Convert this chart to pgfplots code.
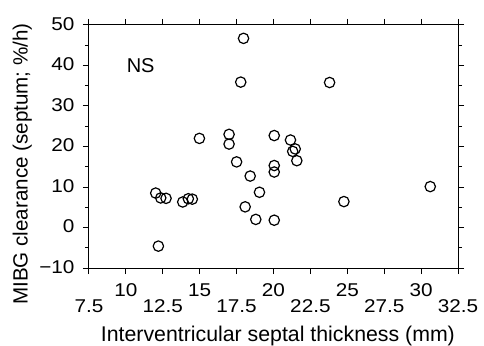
\documentclass[border=0pt]{standalone}
\usepackage{pgfplots}
\pgfplotsset{compat=1.18}
\usepackage{fontspec}
\setmainfont{Liberation Sans}
\newfontfamily\tickfont[FakeStretch=1.12]{Liberation Sans}
\begin{document}
\begin{tikzpicture}[x=1pt,y=1pt]
\path[use as bounding box] (-89,-77) rectangle (395,268);
\begin{axis}[
  at={(0,0)}, anchor=south west,
  scale only axis, width=369pt, height=243pt,
  xmin=7.5, xmax=32.5, ymin=-10, ymax=50,
  axis line style={line width=1pt},
  tick style={line width=1pt, black},
  tick align=outside,
  major tick length=6pt, minor tick length=4pt,
  xtick={7.5,12.5,17.5,22.5,27.5,32.5},
  xticklabels={7.5,12.5,17.5,22.5,27.5,32.5},
  extra x ticks={10,15,20,25,30},
  extra x tick labels={10,15,20,25,30},
  extra x tick style={xticklabel style={yshift=15.7pt}},
  ytick={-10,0,10,20,30,40,50},
  yticklabels={−10,0,10,20,30,40,50},
  minor y tick num=1,
  /pgf/number format/assume math mode=true,
  ticklabel style={font=\tickfont\fontsize{18.5}{20}\selectfont},
  xticklabel style={anchor=base, yshift=-38pt},
  yticklabel style={xshift=-5pt, yshift=1pt},
  xlabel={Interventricular septal thickness (mm)},
  ylabel={MIBG clearance (septum; \%/h)},
  xlabel style={font=\fontsize{21.3}{23}\selectfont, at={(rel axis cs:0.512,0)}, anchor=base, yshift=-73.7pt},
  ylabel style={font=\fontsize{20.6}{22}\selectfont, at={(rel axis cs:0,0.428)}, anchor=base, yshift=61.3pt},
  clip=false,
]
\addplot[only marks, mark=o, mark size=5.2pt, line width=1.2pt, black] coordinates {
(17.97,46.7) (17.78,35.9) (23.80,35.8) (14.98,22.0) (16.99,23.0) (16.99,20.6)
(20.05,22.7) (21.15,21.6) (21.47,19.4) (21.30,18.8) (21.58,16.5) (17.50,16.2)
(20.05,15.3) (20.05,13.7) (18.42,12.7) (19.05,8.7) (18.08,5.1) (18.80,2.0)
(20.05,1.8) (30.62,10.1) (24.77,6.4) (12.02,8.5) (12.36,7.3) (12.72,7.2)
(13.85,6.3) (14.23,7.1) (14.50,7.0) (12.20,-4.6)
};
\node[font=\fontsize{20}{22}\selectfont] at (axis cs:11.0,40) {NS};
\end{axis}
\end{tikzpicture}
\end{document}
